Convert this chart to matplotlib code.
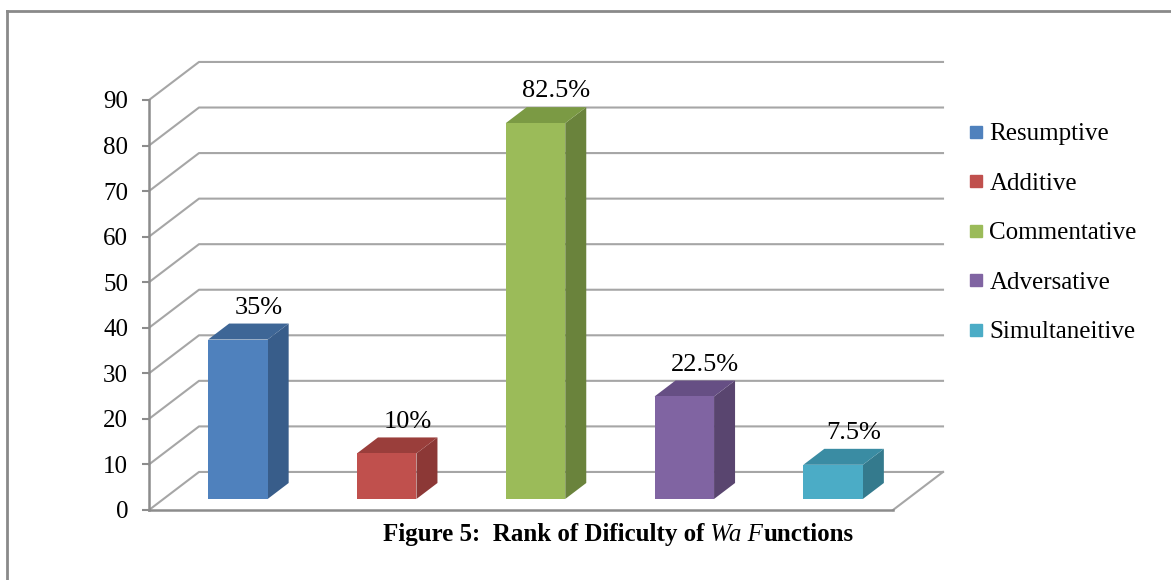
import matplotlib
matplotlib.use("Agg")
import matplotlib.pyplot as plt
from matplotlib.patches import Polygon
from matplotlib.lines import Line2D

# ---- data ----
categories = ["Resumptive", "Additive", "Commentative", "Adversative", "Simultaneitive"]
values = [35, 10, 82.5, 22.5, 7.5]
value_labels = ["35%", "10%", "82.5%", "22.5%", "7.5%"]
y_ticks = [0, 10, 20, 30, 40, 50, 60, 70, 80, 90]

# ---- styling ----
front_colors = ["#4F81BD", "#C0504D", "#9BBB59", "#8064A2", "#4BACC6"]
side_colors = ["#385D8A", "#8C3836", "#6A833C", "#59456F", "#347A8D"]
top_colors = ["#3E6696", "#9A3E3B", "#7B9A44", "#664F84", "#3A8CA3"]
grid_color = "#a6a6a6"
axis_color = "#8c8c8c"

plt.rcParams["font.family"] = ["Liberation Serif", "DejaVu Serif"]

W, H = 1171, 580
fig = plt.figure(figsize=(W / 100, H / 100), dpi=100)
fig.patch.set_facecolor("white")

# front plane of the 3-D box
ax = fig.add_axes([149 / W, (H - 510) / H, 744 / W, 410 / H])
n = len(categories)
ax.set_xlim(0, n)
ax.set_ylim(0, 90)
ax.set_facecolor("none")

# oblique depth offset (category units, value units)
DX, DY = 0.336, 8.35


def proj(x, v, d):
    return (x + d * DX, v + d * DY)


# back wall gridlines with the left-wall diagonals
for v in y_ticks:
    xs = [0, DX, n + DX]
    ys = [v, v + DY, v + DY]
    ax.plot(xs, ys, color=grid_color, lw=1.5, clip_on=False, zorder=1)
# right edge of the floor
ax.plot([n, n + DX], [0, DY], color=grid_color, lw=1.5, clip_on=False, zorder=1)

# axis styling
for side in ("top", "right"):
    ax.spines[side].set_visible(False)
for side in ("left", "bottom"):
    ax.spines[side].set_color(axis_color)
    ax.spines[side].set_linewidth(1.8)
    ax.spines[side].set_zorder(2)
ax.set_xticks([])
ax.set_yticks(y_ticks)
ax.tick_params(axis="y", direction="out", length=5, width=1.5, color=axis_color,
               pad=10, labelsize=18, labelcolor="black")

# bars as boxes standing on the floor
half_w = 0.2
d0, d1 = 0.29, 0.71
for i, (v, lab) in enumerate(zip(values, value_labels)):
    xc = i + 0.5
    xl, xr = xc - half_w, xc + half_w
    base = 0
    front = [proj(xl, base, d0), proj(xr, base, d0), proj(xr, v, d0), proj(xl, v, d0)]
    side = [proj(xr, base, d0), proj(xr, base, d1), proj(xr, v, d1), proj(xr, v, d0)]
    top = [proj(xl, v, d0), proj(xr, v, d0), proj(xr, v, d1), proj(xl, v, d1)]
    ax.add_patch(Polygon(side, closed=True, facecolor=side_colors[i],
                         edgecolor="none", clip_on=False, zorder=3))
    ax.add_patch(Polygon(top, closed=True, facecolor=top_colors[i],
                         edgecolor="none", clip_on=False, zorder=3))
    ax.add_patch(Polygon(front, closed=True, facecolor=front_colors[i],
                         edgecolor="none", clip_on=False, zorder=4))
    lx, ly = proj(xc, v, d1)
    ax.annotate(lab, xy=(lx, ly), xytext=(0, 7), textcoords="offset points",
                ha="center", va="baseline", fontsize=19, color="black",
                annotation_clip=False, zorder=5)

# legend
handles = [Line2D([], [], marker="s", linestyle="none", markersize=8.8,
                  markerfacecolor=c, markeredgecolor=c) for c in front_colors]
fig.legend(handles, categories, loc="center left",
           bbox_to_anchor=(968 / W, 1 - 233 / H), frameon=False,
           fontsize=18, handlelength=0.6, handletextpad=0.25,
           borderpad=0, borderaxespad=0, labelspacing=1.08)

# caption: bold text with the italic "Wa F"
t1 = fig.text(383 / W, 1 - 541 / H, "Figure 5:  Rank of Dificulty of",
              fontsize=18, fontweight="bold", va="baseline", ha="left")
t2 = ax.annotate(" Wa F", xy=(1, 0), xycoords=t1, va="bottom", ha="left",
                 fontsize=18, fontstyle="italic", annotation_clip=False)
ax.annotate("unctions", xy=(1, 0), xycoords=t2, va="bottom", ha="left",
            fontsize=18, fontweight="bold", annotation_clip=False)

# outer frame (left and top edges)
fig.add_artist(Line2D([7 / W, 7 / W], [0, 1 - 11 / H], transform=fig.transFigure,
                      color="#8a8a8a", lw=2))
fig.add_artist(Line2D([7 / W, 1], [1 - 11 / H, 1 - 11 / H], transform=fig.transFigure,
                      color="#8a8a8a", lw=2))

fig.savefig("out.png", dpi=100, facecolor="white")
